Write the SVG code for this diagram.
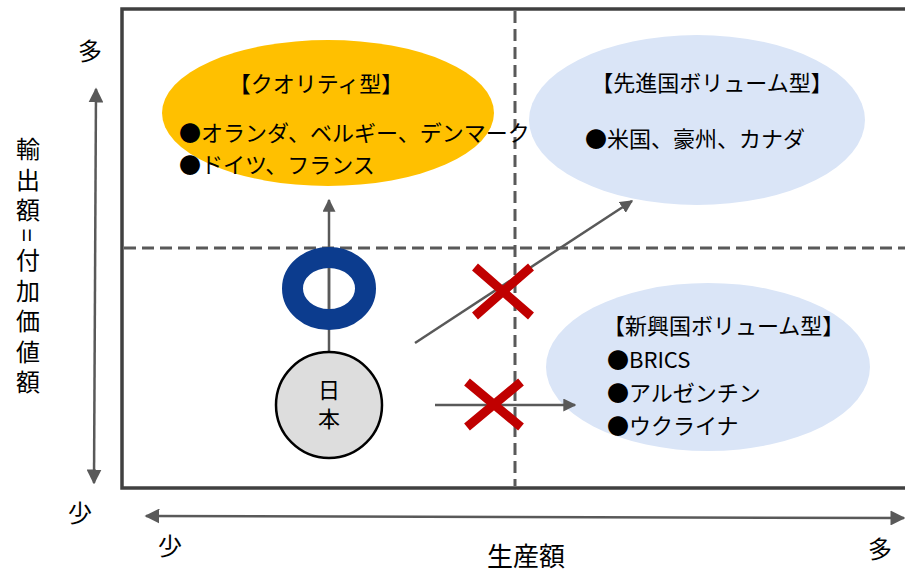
<svg xmlns="http://www.w3.org/2000/svg" width="905" height="572" viewBox="0 0 905 572">
<style>
text{font-family:"Noto Sans CJK JP","Noto Sans",sans-serif;fill:#000}
.lbl{font-size:22px}
.axis{font-size:24px}
.dash{stroke:#595959;stroke-width:3;stroke-dasharray:12 6;fill:none}
.conn{stroke:#595959;stroke-width:2.5;fill:none}
.x{stroke:#C00000;stroke-width:9;fill:none}
</style>
<defs>
<marker id="ah" viewBox="0 0 10 10" refX="9" refY="5" markerWidth="13" markerHeight="13" markerUnits="userSpaceOnUse" orient="auto-start-reverse">
<path d="M0,0 L10,5 L0,10 z" fill="#595959"/>
</marker>
<marker id="ahs" viewBox="0 0 10 10" refX="9" refY="5" markerWidth="15" markerHeight="15" markerUnits="userSpaceOnUse" orient="auto-start-reverse">
<path d="M0,0 L10,5 L0,10 z" fill="#595959"/>
</marker>
</defs>
<rect width="905" height="572" fill="#fff"/>
<g id="frame">
<rect x="122" y="9" width="800" height="479" fill="none" stroke="#404040" stroke-width="3.5"/>
<line class="dash" x1="515" y1="11" x2="515" y2="486"/>
<line class="dash" x1="124" y1="248" x2="905" y2="248"/>
</g>
<g id="axes">
<line class="conn" x1="96" y1="89" x2="94" y2="483" marker-start="url(#ahs)" marker-end="url(#ahs)"/>
<line class="conn" x1="146" y1="516" x2="904" y2="518" marker-start="url(#ahs)" marker-end="url(#ahs)"/>
<text class="axis" x="90" y="60" text-anchor="middle">多</text>
<text class="axis" x="80" y="522" text-anchor="middle">少</text>
<text class="axis" x="170" y="555" text-anchor="middle">少</text>
<text class="axis" x="880" y="558" text-anchor="middle">多</text>
<text x="526" y="566" text-anchor="middle" style="font-size:26px">生産額</text>
<text class="axis" x="28" y="137" style="writing-mode:vertical-rl;letter-spacing:6.5px">輸出額=付加価値額</text>
</g>
<g id="quality">
<ellipse cx="328" cy="113" rx="166" ry="73" fill="#FFC000"/>
<text class="lbl" x="316" y="92" text-anchor="middle">【クオリティ型】</text>
<text class="lbl" x="179" y="141">●オランダ、ベルギー、デンマーク</text>
<text class="lbl" x="179" y="173">●ドイツ、フランス</text>
</g>
<g id="advanced">
<ellipse cx="697" cy="120" rx="168" ry="85" fill="#DAE5F7"/>
<text class="lbl" x="712" y="91" text-anchor="middle">【先進国ボリューム型】</text>
<text class="lbl" x="585" y="147">●米国、豪州、カナダ</text>
</g>
<g id="emerging">
<ellipse cx="708" cy="367" rx="162" ry="84" fill="#DAE5F7"/>
<text class="lbl" x="603" y="334">【新興国ボリューム型】</text>
<text class="lbl" x="607" y="368">●BRICS</text>
<text class="lbl" x="607" y="401">●アルゼンチン</text>
<text class="lbl" x="607" y="434">●ウクライナ</text>
</g>
<g id="connectors">
<line class="conn" x1="329" y1="352" x2="329" y2="200" marker-end="url(#ah)"/>
<line class="conn" x1="415" y1="343" x2="632" y2="201" marker-end="url(#ah)"/>
<line class="conn" x1="435" y1="405" x2="575" y2="405" marker-end="url(#ah)"/>
</g>
<g id="ring">
<ellipse cx="329" cy="288.5" rx="36.5" ry="31" fill="none" stroke="#0C3C8E" stroke-width="21"/>
<line class="conn" x1="329" y1="268" x2="329" y2="309"/>
</g>
<g id="japan">
<circle cx="329" cy="405" r="53" fill="#DDDDDD" stroke="#000" stroke-width="2.5"/>
<text class="lbl" x="329" y="398" text-anchor="middle">日</text>
<text class="lbl" x="329" y="427" text-anchor="middle">本</text>
</g>
<g id="cross1">
<path class="x" d="M475,267 L531,316 M531,267 L475,316"/>
</g>
<g id="cross2">
<path class="x" d="M467,382 L521,427 M521,382 L467,427"/>
</g>
</svg>
